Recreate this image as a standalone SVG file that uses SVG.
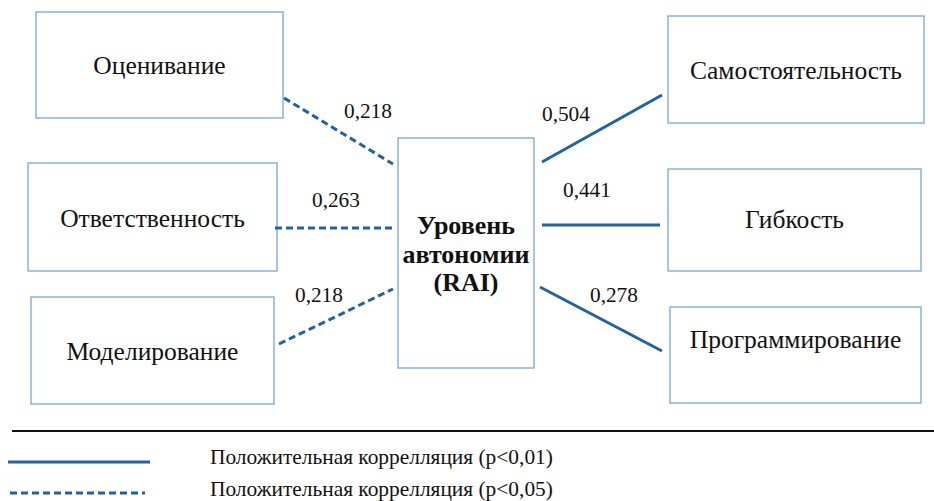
<svg xmlns="http://www.w3.org/2000/svg" width="934" height="501" viewBox="0 0 934 501">
  <style>
    .box { fill: #ffffff; stroke: #6a9fd6; stroke-width: 1.2; }
    .lbl { font-family: "Liberation Serif", "Times New Roman", serif; font-size: 25.5px; fill: #111111; text-anchor: middle; }
    .ctr { font-family: "Liberation Serif", "Times New Roman", serif; font-size: 26px; font-weight: bold; fill: #111111; text-anchor: middle; }
    .num { font-family: "Liberation Serif", "Times New Roman", serif; font-size: 21.3px; fill: #111111; }
    .leg { font-family: "Liberation Serif", "Times New Roman", serif; font-size: 21.4px; fill: #111111; }
    .solid { stroke: #1f62a8; stroke-width: 3; fill: none; }
    .dash { stroke: #1f62a8; stroke-width: 3; fill: none; stroke-dasharray: 7 4; }
  </style>
  <rect width="934" height="501" fill="#ffffff"/>

  <!-- left nodes -->
  <g id="node-otsenivanie">
    <rect class="box" x="36" y="12" width="247" height="106"/>
    <text class="lbl" x="159.5" y="74">Оценивание</text>
  </g>
  <g id="node-otvetstvennost">
    <rect class="box" x="28" y="163" width="249" height="108"/>
    <text class="lbl" x="152.5" y="227">Ответственность</text>
  </g>
  <g id="node-modelirovanie">
    <rect class="box" x="31" y="297" width="243" height="107"/>
    <text class="lbl" x="152.5" y="360">Моделирование</text>
  </g>

  <!-- central node -->
  <g id="node-rai">
    <rect class="box" x="398" y="138" width="136" height="230"/>
    <text class="ctr" x="466" y="234">Уровень</text>
    <text class="ctr" x="466" y="263">автономии</text>
    <text class="ctr" x="466" y="291">(RAI)</text>
  </g>

  <!-- right nodes -->
  <g id="node-samostoyatelnost">
    <rect class="box" x="668" y="16" width="256" height="107"/>
    <text class="lbl" x="796" y="79">Самостоятельность</text>
  </g>
  <g id="node-gibkost">
    <rect class="box" x="668" y="169" width="253" height="102"/>
    <text class="lbl" x="794.5" y="228">Гибкость</text>
  </g>
  <g id="node-programmirovanie">
    <rect class="box" x="670" y="307" width="251" height="96"/>
    <text class="lbl" x="795.5" y="348">Программирование</text>
  </g>

  <!-- correlation connectors -->
  <g id="connectors">
    <line class="dash" x1="284" y1="98" x2="393" y2="164"/>
    <line class="dash" x1="275" y1="228" x2="392" y2="228"/>
    <line class="dash" x1="279" y1="344" x2="393" y2="289"/>
    <line class="solid" x1="542" y1="162" x2="662" y2="95"/>
    <line class="solid" x1="542" y1="225" x2="660" y2="225"/>
    <line class="solid" x1="540" y1="287" x2="662" y2="351"/>
    <text class="num" x="344" y="118">0,218</text>
    <text class="num" x="312" y="207">0,263</text>
    <text class="num" x="295" y="302">0,218</text>
    <text class="num" x="542" y="121">0,504</text>
    <text class="num" x="563" y="197">0,441</text>
    <text class="num" x="590" y="302">0,278</text>
  </g>

  <!-- legend -->
  <g id="legend">
    <line x1="12" y1="431" x2="934" y2="431" stroke="#111111" stroke-width="2"/>
    <line class="solid" x1="8" y1="462" x2="150" y2="462"/>
    <line class="dash" x1="10" y1="493" x2="145" y2="493"/>
    <text class="leg" x="210" y="464">Положительная коррелляция (p&lt;0,01)</text>
    <text class="leg" x="210" y="496">Положительная коррелляция (p&lt;0,05)</text>
  </g>
</svg>
